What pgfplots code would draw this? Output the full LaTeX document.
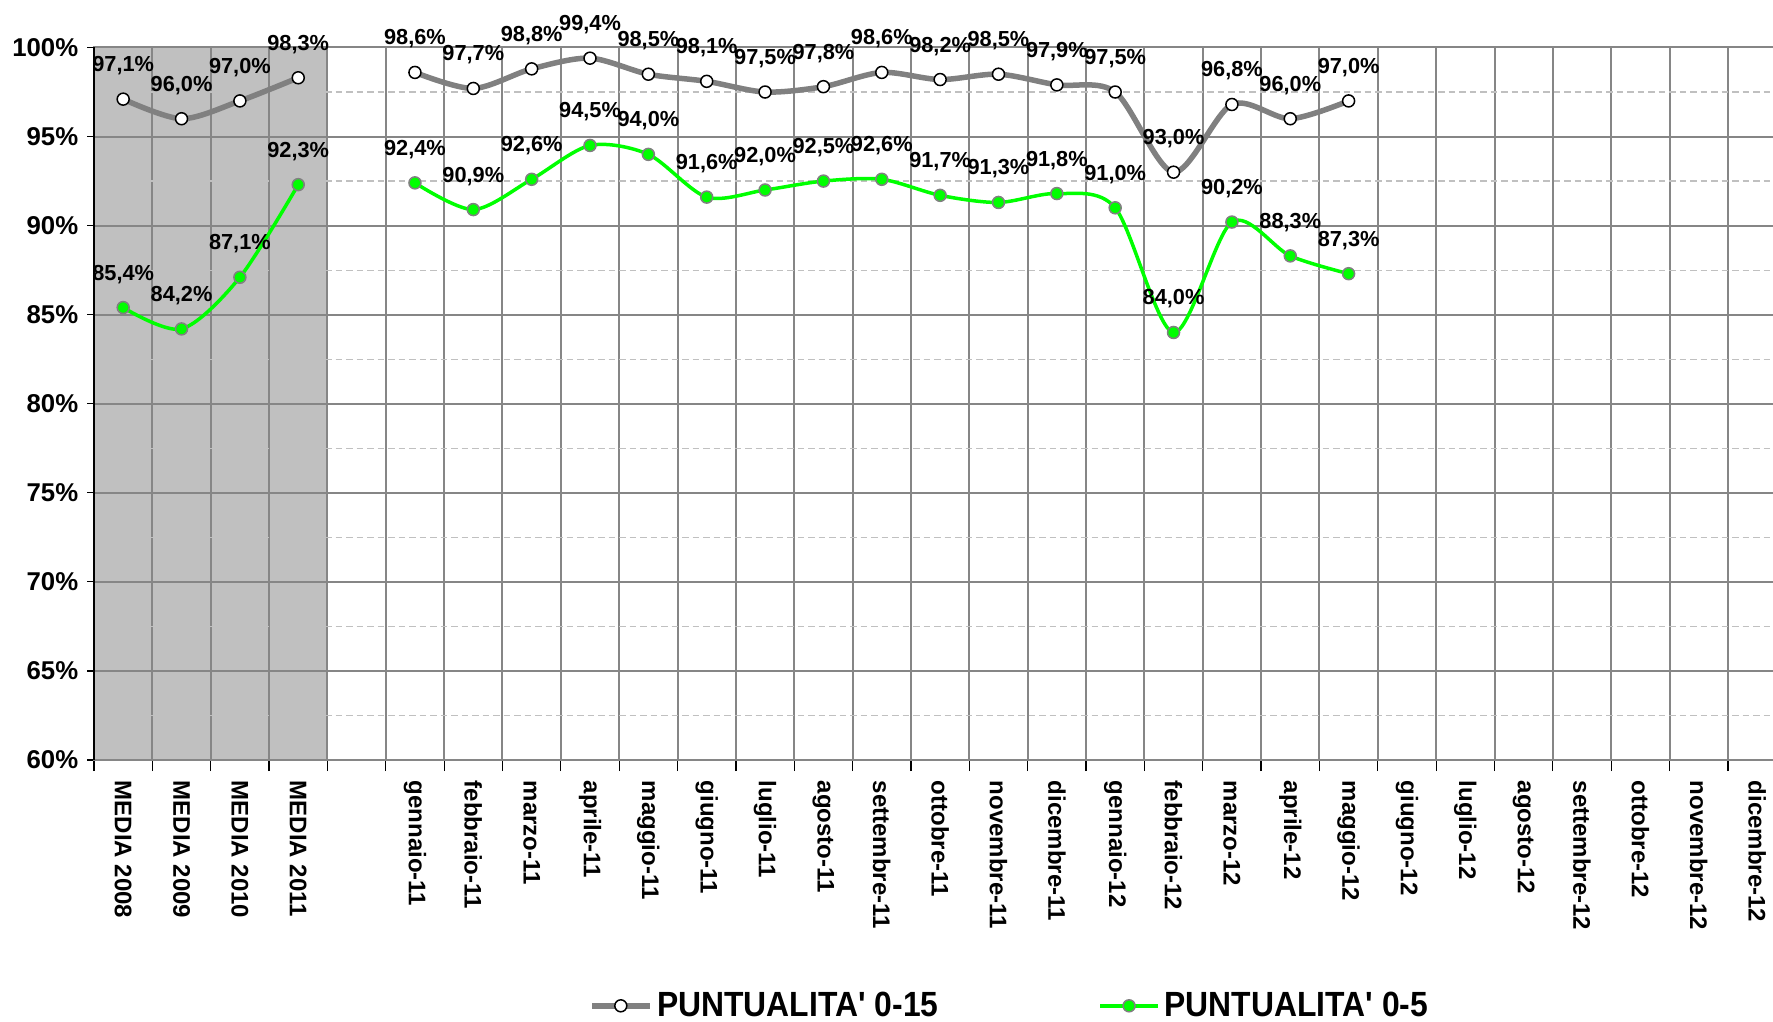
\documentclass[border=0pt]{standalone}
\usepackage{fontspec}
\setmainfont{Liberation Sans}
\usepackage{pgfplots}
\pgfplotsset{compat=1.18}
\definecolor{gridgray}{RGB}{134,134,134}
\definecolor{lightdash}{RGB}{192,192,192}
\definecolor{shadegray}{RGB}{192,192,192}
\definecolor{lgreen}{RGB}{0,255,0}
\definecolor{lgray}{RGB}{128,128,128}
\begin{document}
\begin{tikzpicture}
\begin{axis}[
  set layers,
  scale only axis,
  width=676.9pt, height=285pt,
  xmin=-0.5, xmax=28.5, ymin=60, ymax=100,
  clip=false,
  xtick={0,...,28},
  xticklabels={MEDIA 2008,MEDIA 2009,MEDIA 2010,MEDIA 2011,,gennaio-11,febbraio-11,marzo-11,aprile-11,maggio-11,giugno-11,luglio-11,agosto-11,settembre-11,ottobre-11,novembre-11,dicembre-11,gennaio-12,febbraio-12,marzo-12,aprile-12,maggio-12,giugno-12,luglio-12,agosto-12,settembre-12,ottobre-12,novembre-12,dicembre-12},
  minor xtick={-0.5,0.5,...,28.5},
  ytick={60,65,...,100},
  yticklabels={60\%,65\%,70\%,75\%,80\%,85\%,90\%,95\%,100\%},
  minor ytick={62.5,67.5,...,97.5},
  tick align=outside,
  major tick length=2.8pt,
  minor tick length=4.5pt,
  major x tick style={draw=none},
  minor y tick style={draw=none},
  minor x tick style={draw=black, line width=0.5pt},
  major y tick style={draw=black, line width=0.5pt},
  xtick pos=bottom, ytick pos=left,
  xminorgrids, ymajorgrids, yminorgrids,
  minor x grid style={gridgray, line width=0.8pt},
  major y grid style={gridgray, line width=0.8pt},
  minor y grid style={lightdash, line width=0.5pt, dash pattern=on 2.6pt off 1.6pt},
  axis line style={gridgray, line width=0.8pt},
  yticklabel style={font=\fontsize{10.3}{12}\selectfont\bfseries, black},
  xticklabel style={font=\fontsize{9.6}{11}\selectfont\bfseries, black, rotate=-90, anchor=west},
  xticklabel shift=2pt,
  /pgf/number format/assume math mode=true,
  point meta=y,
  nodes near coords={\pgfmathprintnumber[fixed,fixed zerofill,precision=1,use comma,assume math mode=true]{\pgfplotspointmeta}\%},
  every node near coord/.append style={font=\fontsize{8.7}{10}\selectfont\bfseries, black, anchor=base, yshift=11pt, inner sep=0pt},
  legend columns=2,
  legend style={at={(0.542,-0.345)}, anchor=center, draw=none, fill=none,
    font=\fontsize{14}{16}\selectfont\bfseries,
    /tikz/every even column/.append style={column sep=62pt}},
  legend image code/.code={\draw[mark repeat=2,mark phase=2,#1] plot coordinates {(0pt,0pt)(11.5pt,0pt)(23pt,0pt)};},
]
\begin{pgfonlayer}{axis background}
\fill[shadegray] (axis cs:-0.5,60) rectangle (axis cs:3.5,100);
\end{pgfonlayer}
\addplot[lgray, line width=2.2pt, smooth, tension=0.5, mark=*, mark size=2.4pt, mark options={fill=white, draw=black, line width=0.6pt}, forget plot]
  coordinates {(0,97.1)(1,96.0)(2,97.0)(3,98.3)};
\addplot[lgray, line width=2.2pt, smooth, tension=0.5, mark=*, mark size=2.4pt, mark options={fill=white, draw=black, line width=0.6pt}]
  coordinates {(5,98.6)(6,97.7)(7,98.8)(8,99.4)(9,98.5)(10,98.1)(11,97.5)(12,97.8)(13,98.6)(14,98.2)(15,98.5)(16,97.9)(17,97.5)(18,93.0)(19,96.8)(20,96.0)(21,97.0)};
\addlegendentry{\scalebox{0.91}[1]{PUNTUALITA\textquotesingle{} 0-15}}
\addplot[lgreen, line width=1.4pt, smooth, tension=0.5, mark=*, mark size=2.4pt, mark options={fill=lgreen, draw=gray, line width=0.6pt}, forget plot]
  coordinates {(0,85.4)(1,84.2)(2,87.1)(3,92.3)};
\addplot[lgreen, line width=1.4pt, smooth, tension=0.5, mark=*, mark size=2.4pt, mark options={fill=lgreen, draw=gray, line width=0.6pt}]
  coordinates {(5,92.4)(6,90.9)(7,92.6)(8,94.5)(9,94.0)(10,91.6)(11,92.0)(12,92.5)(13,92.6)(14,91.7)(15,91.3)(16,91.8)(17,91.0)(18,84.0)(19,90.2)(20,88.3)(21,87.3)};
\addlegendentry{\scalebox{0.91}[1]{PUNTUALITA\textquotesingle{} 0-5}}
\draw[black, line width=0.8pt] (rel axis cs:0,0) -- (rel axis cs:0,1);
\end{axis}
\pgfresetboundingbox
\path[use as bounding box] (-37.6pt,-104.8pt) rectangle (671.6pt,304pt);
\end{tikzpicture}
\end{document}
